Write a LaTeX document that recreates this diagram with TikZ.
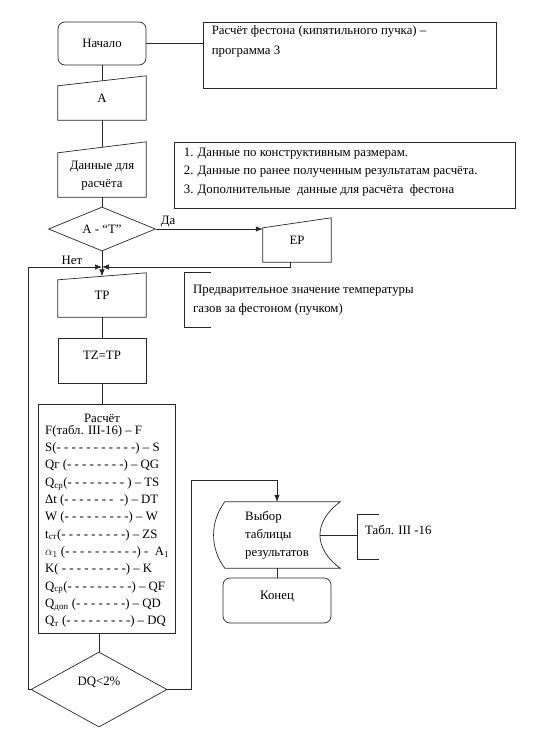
\documentclass[tikz,border=0pt]{standalone}
\usepackage{fontspec}
\setmainfont{Liberation Serif}
\usetikzlibrary{shapes.geometric,arrows.meta}
\newcommand\fcfont{\rmfamily\fontsize{12.8}{18}\selectfont}
\tikzset{
	fc/.style={draw=black!85, line width=0.7pt},
	term/.style={fc, rounded corners=7pt, minimum width=88pt, minimum height=43pt, font=\fcfont, inner sep=0pt},
	proc/.style={fc, minimum width=88pt, minimum height=45pt, font=\fcfont, inner sep=0pt},
	manual/.style={minimum width=88pt, minimum height=44pt, inner sep=0pt, font=\fcfont, align=center,
		append after command={\pgfextra{\draw[fc] (\tikzlastnode.south west) -- (\tikzlastnode.south east) -- (\tikzlastnode.north east) -- ([yshift=-#1]\tikzlastnode.north west) -- cycle;}}},
	decide/.style={fc, diamond, aspect=2.4, inner sep=0pt, font=\fcfont},
	note/.style={font=\fcfont, align=left, inner sep=0pt},
	arr/.style={fc, -{Latex[length=7pt,width=5.5pt]}},
}
\begin{document}
\begin{tikzpicture}[x=1pt,y=-1pt]
			\useasboundingbox (0,0) rectangle (556,745);
			% main column
			\node[term] (start) at (102,43.5) {Начало};
			\node[manual=10pt] (ina) at (102,98) {A};
			\node[manual=11pt, minimum height=55pt] (data) at (102,169.5) {\raisebox{-5pt}[\height][\depth]{\begin{tabular}{@{}c@{}}Данные для\\расчёта\end{tabular}}};
			\node[decide, minimum width=107pt, minimum height=44pt] (check) at (102,229) {A - “T”};
			\node[manual=10pt, minimum width=68pt] (ep) at (297,240) {EP};
			\node[manual=7pt] (tp) at (102,295) {TP};
			\node[proc] (tzp) at (102,360.5) {\raisebox{5pt}[\height][\depth]{TZ=TP}};
			\node[proc, minimum width=137pt, minimum height=229pt] (calc) at (106.5,518.5) {};
			\node[font=\fcfont] (calchead) at (102,418) {Расчёт};
			\node[note, anchor=north west, font=\rmfamily\fontsize{12.8}{17.3}\selectfont] (calclist) at (45,425) {F(табл. III-16) – F\\
				S(- - - - - - - - - - -) – S\\
				Qг (- - - - - - - -) – QG\\
				Q\textsubscript{ср}(- - - - - - - - ) – TS\\
				Δt (- - - - - - - ~-) – DT\\
				W (- - - - - - - - -) – W\\
				t\textsubscript{ст}(- - - - - - - - -) – ZS\\
				$\alpha_1$ (- - - - - - - - - -) - ~A\textsubscript{1}\\
				K( - - - - - - - - -) – K\\
				Q\textsubscript{ср}(- - - - - - - - -) – QF\\
				Q\textsubscript{доп} (- - - - - - -) – QD\\
				Q\textsubscript{т} (- - - - - - - - -) – DQ};
			\node[decide, minimum width=136pt, minimum height=75pt] (dq) at (99,689.5) {\raisebox{7pt}[\height][\depth]{DQ<2\%}\hspace{14pt}};
			% result table and end
			\node[note, minimum width=126pt, minimum height=66pt] (choose) at (277,535) {Выбор\\таблицы\\результатов};
			\draw[fc] ([xshift=11pt]choose.north west) -- (choose.north east)
				.. controls ([xshift=-27pt,yshift=-20pt]choose.north east) and ([xshift=-27pt,yshift=20pt]choose.south east) .. (choose.south east)
				-- ([xshift=11pt]choose.south west)
				.. controls ([xshift=-4pt,yshift=20pt]choose.south west) and ([xshift=-4pt,yshift=-20pt]choose.north west) .. cycle;
			\node[term, minimum width=108pt, minimum height=45pt] (finish) at (277,600.5) {\raisebox{4pt}[\height][\depth]{Конец}};
			% comments
			\node[fc, minimum width=293pt, minimum height=66pt] (note1) at (349.5,55) {};
			\node[note, anchor=north west, font=\rmfamily\fontsize{12.8}{20}\selectfont] (note1txt) at ([xshift=9pt,yshift=-4pt]note1.north west) {Расчёт фестона (кипятильного пучка) –\\программа 3};
			\node[fc, minimum width=341pt, minimum height=66pt] (note2) at (344.5,175) {};
			\node[note, anchor=north west, font=\rmfamily\fontsize{12.8}{18.5}\selectfont] (note2txt) at ([xshift=10pt,yshift=-6pt]note2.north west) {1. Данные по конструктивным размерам.\\2. Данные по ранее полученным результатам расчёта.\\3. Дополнительные \ данные для расчёта \ фестона};
			\node[note, anchor=west, minimum height=54pt, inner xsep=9pt, font=\rmfamily\fontsize{12.8}{19}\selectfont] (note3) at (184,300) {Предварительное значение температуры\\газов за фестоном (пучком)};
			\draw[fc] ([xshift=27pt]note3.north west) -- (note3.north west) -- (note3.south west) -- ([xshift=27pt]note3.south west);
			\node[note, anchor=west, minimum height=44pt, inner xsep=8pt] (note4) at (357,537) {\raisebox{7pt}[\height][\depth]{Табл. III -16}};
			\draw[fc] ([xshift=22pt]note4.north west) -- (note4.north west) -- (note4.south west) -- ([xshift=22pt]note4.south west);
			% connectors
			\draw[fc] (start.east) -- (start.east -| note1.west);
			\draw[fc] (start.south) -- ([yshift=-5pt]ina.north);
			\draw[fc] (ina.south) -- ([yshift=-5.5pt]data.north);
			\draw[fc] (data.south) -- (check.north);
			\draw[arr] (check.east) -- (check.east -| ep.west);
			\node[font=\fcfont] (yes) at (168,222) {Да};
			\node[font=\fcfont] (no) at (72,260) {Нет};
			\coordinate (merge) at (102,267);
			\draw[arr] (check.south) -- ([yshift=-3.5pt]tp.north);
			\draw[arr] ([xshift=-7pt]ep.south) |- (merge);
			\draw[arr] (dq.west) -- ++(-2,0) |- (merge);
			\draw[fc] (tp.south) -- (tzp.north);
			\draw[fc] (tzp.south) -- (tzp.south |- calc.north);
			\draw[fc] (dq.north |- calc.south) -- (dq.north);
			\draw[arr] (dq.east) -| ++(24,-209) -| (choose.north);
			\draw[fc] (choose.south) -- (finish.north);
			\draw[fc] ([xshift=-20pt]choose.east) -- (choose.east -| note4.west);
		\end{tikzpicture}
\end{document}
